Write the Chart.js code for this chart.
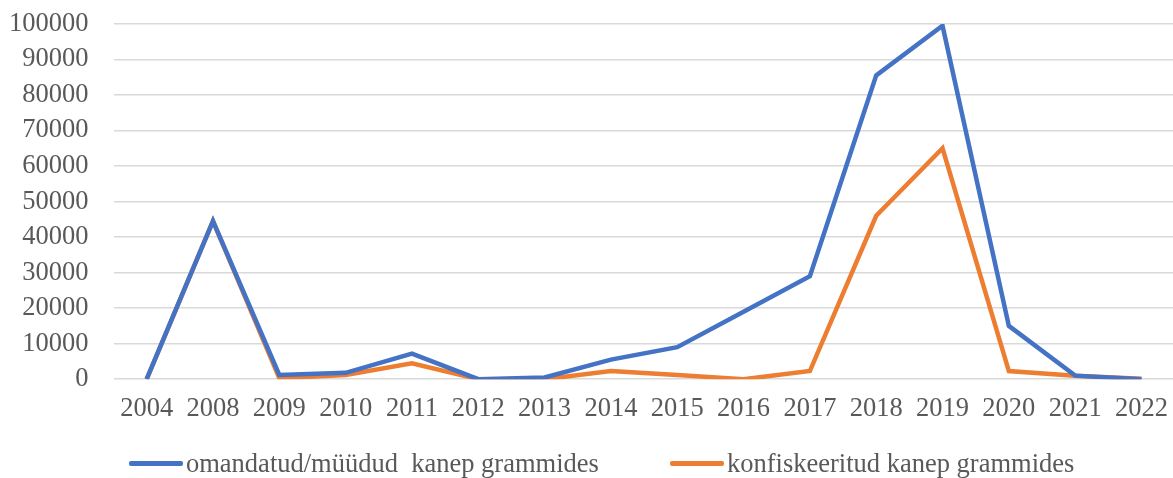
<!DOCTYPE html>
<html>
<head>
<meta charset="utf-8">
<script src="https://cdn.jsdelivr.net/npm/chart.js@4"></script>
<style>
  body { margin: 0; background: #fff; overflow: hidden; }
  #wrap { position: relative; width: 1173px; height: 478px; overflow: hidden; }
  #myChart { position: absolute; left: 0; top: -17px; }
  #legend { position: absolute; top: 448px; left: 0; width: 1173px; height: 34px;
    font-family: "Liberation Serif", "Times New Roman", serif; font-size: 26.5px; color: #595959; }
  .item { position: absolute; top: 0; display: flex; align-items: center; white-space: pre; }
  .swatch { width: 54px; height: 5px; margin-right: 3px; border-radius: 2px; }
</style>
</head>
<body>
<div id="wrap">
  <canvas id="myChart" width="1182" height="495"></canvas>
  <div id="legend"></div>
</div>
<script>
// data
let years = ["2004", "2008", "2009", "2010", "2011", "2012", "2013", "2014",
  "2015", "2016", "2017", "2018", "2019", "2020", "2021", "2022"];
let owned = [0, 44500, 1200, 1800, 7200, 0, 500, 5500,
  9000, 19000, 29000, 85500, 99500, 15000, 1000, 0];
let confiscated = [0, 44500, 300, 1200, 4500, 0, 0, 2300,
  1200, 0, 2300, 46000, 65000, 2300, 1000, 100];
let seriesNames = ["omandatud/müüdud  kanep grammides", "konfiskeeritud kanep grammides"];
let colors = ["#4472C4", "#ED7D31"];

const serif = "'Liberation Serif', 'Times New Roman', serif";

let ctx = document.getElementById("myChart").getContext("2d");
let chart = new Chart(ctx, {
  type: "line",
  data: {
    labels: years,
    datasets: [
      {
        label: seriesNames[0],
        data: owned,
        borderColor: colors[0],
        backgroundColor: colors[0],
        borderWidth: 4.5,
        pointRadius: 0,
        tension: 0,
      },
      {
        label: seriesNames[1],
        data: confiscated,
        borderColor: colors[1],
        backgroundColor: colors[1],
        borderWidth: 4.5,
        pointRadius: 0,
        tension: 0,
      },
    ],
  },
  options: {
    responsive: false,
    animation: false,
    layout: { padding: { top: 0, left: -16, right: 0, bottom: 39 } },
    plugins: {
      legend: { display: false },
      tooltip: { enabled: false },
    },
    scales: {
      x: {
        offset: true,
        grid: { display: false, drawTicks: false },
        border: { display: false },
        ticks: { color: "#595959", font: { family: serif, size: 26.5 }, padding: 14, maxRotation: 0, autoSkip: false },
      },
      y: {
        min: 0,
        max: 100000,
        grid: { color: "#d9d9d9", lineWidth: 1.5, drawTicks: false },
        border: { display: false },
        ticks: {
          stepSize: 10000,
          autoSkip: false,
          color: "#595959",
          font: { family: serif, size: 26.5 },
          padding: 25,
          callback: (v) => String(v),
        },
      },
    },
  },
});

// legend below the chart
let legend = document.getElementById("legend");
let lefts = [129, 670];
seriesNames.forEach((name, i) => {
  let item = document.createElement("div");
  item.className = "item";
  item.style.left = lefts[i] + "px";
  item.innerHTML = '<span class="swatch" style="background:' + colors[i] + '"></span><span></span>';
  item.lastChild.textContent = name;
  legend.appendChild(item);
});
</script>
</body>
</html>
